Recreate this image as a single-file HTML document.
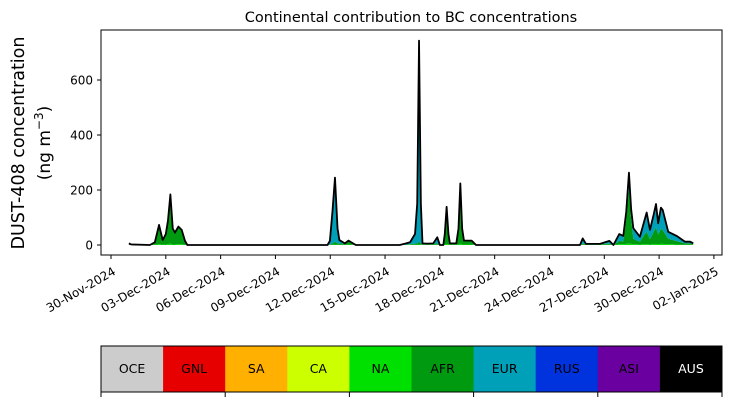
<!DOCTYPE html>
<html><head><meta charset="utf-8"><style>
body{margin:0;background:#fff;width:730px;height:402px;overflow:hidden;font-family:"Liberation Sans","DejaVu Sans",sans-serif}
svg text{font-family:"DejaVu Sans","Liberation Sans",sans-serif}
</style></head><body>
<svg id="chart" width="730" height="402" viewBox="0 0 730 402" xmlns="http://www.w3.org/2000/svg">
<text x="411" y="22" text-anchor="middle" font-size="14.5">Continental contribution to BC concentrations</text>
<text transform="translate(24,143) rotate(-90)" text-anchor="middle" font-size="17.5">DUST-408 concentration</text>
<text transform="translate(50,143) rotate(-90)" text-anchor="middle" font-size="17">(ng m<tspan font-size="12" dy="-7">−3</tspan><tspan dy="7">)</tspan></text>
<g id="areas"></g>
<g id="yticks"></g>
<g id="xticks"></g>
<rect x="101" y="30" width="621" height="225" fill="none" stroke="#000" stroke-width="1"/>
<g id="cbar"></g>
</svg>
<script>
const days  = [0.98,1.1,2.13,2.4,2.63,2.83,3.0,3.12,3.25,3.38,3.5,3.69,3.87,4.05,4.18,11.85,11.98,12.12,12.26,12.4,12.5,12.8,13.0,13.4,15.8,16.1,16.37,16.64,16.76,16.86,16.96,17.05,17.3,17.64,17.86,18.0,18.19,18.27,18.37,18.47,18.55,18.9,19.02,19.12,19.22,19.32,19.74,19.98,25.67,25.82,26.0,26.76,27.28,27.5,27.82,28.04,28.2,28.35,28.47,28.59,28.95,29.2,29.32,29.5,29.7,29.83,29.95,30.1,30.2,30.5,30.96,31.42,31.7,31.87];
const totalVals = [6,2,0,10,73,18,40,90,184,60,45,67,55,15,0,0,15,120,245,60,18,6,16,0,0,5,10,40,150,743,150,6,5,6,28,0,0,40,139,40,6,6,60,224,60,16,16,0,0,24,4,4,15,0,40,33,120,263,130,61,30,90,118,55,110,149,79,136,127,48,33,12,12,6];
const afrVals   = [5,2,0,9,70,17,38,85,175,57,43,64,52,14,0,0,1,5,10,5,5,3,12,0,0,1,2,4,5,10,5,2,2,3,5,0,0,30,120,30,5,5,50,200,50,12,12,0,0,4,2,2,4,0,12,10,90,200,90,20,10,35,45,20,45,60,35,55,50,20,12,5,5,3];
const naVals    = [1,0,0,1,3,1,2,3,5,2,2,3,3,1,0,0,0,1,2,1,1,1,2,0,0,0,1,1,1,2,1,1,1,1,1,0,0,2,4,2,1,1,2,5,2,2,2,0,0,1,1,1,1,0,3,3,4,5,4,3,2,3,3,2,3,4,3,4,4,3,2,1,1,1];
const yTicks = [0,200,400,600];
const xTickLabels = ["30-Nov-2024","03-Dec-2024","06-Dec-2024","09-Dec-2024","12-Dec-2024","15-Dec-2024","18-Dec-2024","21-Dec-2024","24-Dec-2024","27-Dec-2024","30-Dec-2024","02-Jan-2025"];
const xTickDays = [0,3,6,9,12,15,18,21,24,27,30,33];
const regions = ["OCE","GNL","SA","CA","NA","AFR","EUR","RUS","ASI","AUS"];
const regionColors = ["#cccccc","#e60000","#ffb000","#ccff00","#00e000","#009a10","#00a0b8","#0033dd","#6a00a0","#000000"];

const NS="http://www.w3.org/2000/svg";
const X = d => 111 + d*18.27;
const Y = v => 245 - v*0.275;
function mk(tag, attrs, parent){const e=document.createElementNS(NS,tag);for(const k in attrs)e.setAttribute(k,attrs[k]);parent.appendChild(e);return e;}
const areas=document.getElementById('areas');
const eurVals = totalVals.map((t,i)=>Math.max(0,t-afrVals[i]-naVals[i]));
const layers=[[naVals,"#00e000","area-na"],[afrVals,"#009a10","area-afr"],[eurVals,"#00a0b8","area-eur"]];
let base=days.map(()=>0);
layers.forEach(([vals,col,name])=>{
  const top=base.map((b,i)=>b+vals[i]);
  let d="M"+days.map((t,i)=>X(t)+","+Y(top[i])).join(" L");
  for(let i=days.length-1;i>=0;i--) d+=" L"+X(days[i])+","+Y(base[i]);
  const p=mk('path',{d:d+"Z",fill:col,stroke:"none"},areas);
  
  
  base=top;
});
const line=mk('path',{d:"M"+days.map((t,i)=>X(t)+","+Y(totalVals[i])).join(" L"),fill:"none",stroke:"#000",'stroke-width':1.8,'stroke-linejoin':'round'},areas);



const yt=document.getElementById('yticks');
yTicks.forEach(v=>{
  const l=mk('line',{x1:97,x2:101,y1:Y(v),y2:Y(v),stroke:"#000"},yt);
  
  
  const t=mk('text',{x:93,y:Y(v)+4.5,'text-anchor':'end','font-size':12},yt);
  t.textContent=v;
  
  
});
const xt=document.getElementById('xticks');
xTickDays.forEach((d,i)=>{
  const x=X(d);
  const l=mk('line',{x1:x,x2:x,y1:255,y2:259,stroke:"#000"},xt);
  
  
  const t=mk('text',{transform:`translate(${x+1},${266}) rotate(-30)`,'text-anchor':'end','font-size':12,y:9},xt);
  t.textContent=xTickLabels[i];
  
  
});
const cb=document.getElementById('cbar');
const cw=621/regions.length;
regions.forEach((r,i)=>{
  const rc=mk('rect',{x:101+i*cw,y:346,width:cw+0.5,height:46,fill:regionColors[i]},cb);
  
  
  const t=mk('text',{x:101+i*cw+cw/2,y:373,'text-anchor':'middle','font-size':12.5,fill:r==="AUS"?"#fff":"#000"},cb);
  t.textContent=r;
  
  
});
const fr=mk('rect',{x:101,y:346,width:621,height:46,fill:"none",stroke:"#000"},cb);


for(let i=0;i<=regions.length;i+=2){
  const l=mk('line',{x1:101+i*cw,x2:101+i*cw,y1:392,y2:397,stroke:"#000"},cb);
  
  
}
</script>
</body></html>
